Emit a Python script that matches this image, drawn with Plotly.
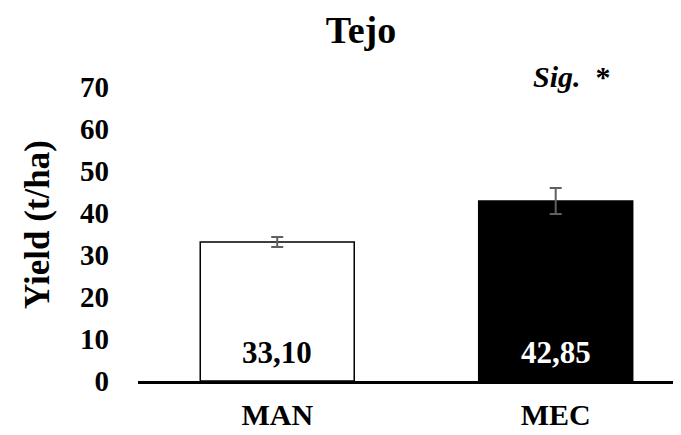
import plotly.graph_objects as go

categories = ["MAN", "MEC"]
yield_values = [33.10, 42.85]
error_values = [1.2, 3.1]
value_labels = ["33,10", "42,85"]
y_ticks = [0, 10, 20, 30, 40, 50, 60, 70]

FONT = "Liberation Serif, Times New Roman, serif"
OFF = 8  # browser default body margin

fig = go.Figure()
fig.add_trace(go.Bar(
    x=categories,
    y=yield_values,
    marker=dict(color=["white", "black"], line=dict(color="black", width=1.5)),
    error_y=dict(type="data", array=error_values, visible=True,
                 color="#606060", thickness=2, width=6),
    cliponaxis=False,
))

label_colors = ["black", "white"]
for cat, lab, col in zip(categories, value_labels, label_colors):
    fig.add_annotation(x=cat, y=0, xref="x", yref="y", text=f"<b>{lab}</b>",
                       showarrow=False, yanchor="middle", yshift=29,
                       font=dict(family=FONT, size=31, color=col))

fig.add_annotation(x=(572 - 138) / 543, y=(381 - 77) / 294, xref="paper", yref="paper",
                   text="<b><i>Sig.</i>\u00a0 *</b>", showarrow=False,
                   xanchor="center", yanchor="middle",
                   font=dict(family=FONT, size=30, color="black"))

fig.add_annotation(x=(37 - 138) / 543, y=(381 - 225) / 294, xref="paper", yref="paper",
                   text="<b>Yield (t/ha)</b>", showarrow=False, textangle=-90,
                   xanchor="center", yanchor="middle",
                   font=dict(family=FONT, size=35, color="black"))

fig.update_layout(
    width=681 - OFF, height=435 - OFF,
    margin=dict(l=138 - OFF, r=0, t=87 - OFF, b=435 - 381),
    paper_bgcolor="white", plot_bgcolor="white",
    showlegend=False,
    bargap=0.447,
    title=dict(text="<b>Tejo</b>", x=(361 - OFF) / (681 - OFF), xanchor="center",
               xref="container", y=1 - (30 - OFF) / (435 - OFF), yanchor="middle",
               yref="container",
               font=dict(family=FONT, size=38, color="black")),
    xaxis=dict(range=[-0.5, 1.45], showline=True, linecolor="black", linewidth=3,
               showgrid=False, zeroline=False, ticks="", automargin=False,
               tickfont=dict(family=FONT, size=30, color="black", weight="bold"),
               ticklabelstandoff=5),
    yaxis=dict(range=[0, 70], tickvals=y_ticks, showline=False, showgrid=False,
               zeroline=False, ticks="", automargin=False,
               tickfont=dict(family=FONT, size=29, color="black", weight="bold"),
               ticklabelstandoff=28),
)

fig.write_html("out.html")
